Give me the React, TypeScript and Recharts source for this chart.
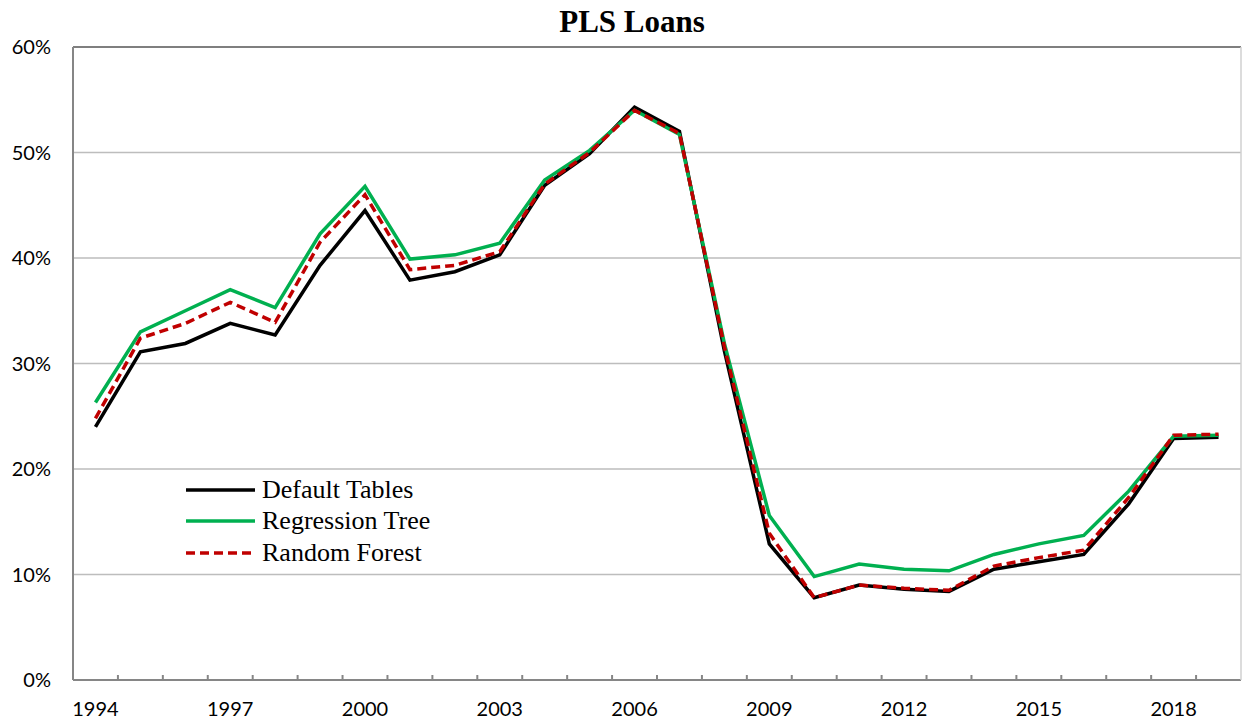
import { LineChart, Line, XAxis, YAxis, CartesianGrid, Legend } from 'recharts'

// ── Data ──────────────────────────────────────────────────────────────────────

const years = [
  1994, 1995, 1996, 1997, 1998, 1999, 2000, 2001, 2002, 2003, 2004, 2005, 2006,
  2007, 2008, 2009, 2010, 2011, 2012, 2013, 2014, 2015, 2016, 2017, 2018, 2019,
]

const defaultTables = [
  24.0, 31.1, 31.9, 33.8, 32.7, 39.3, 44.5, 37.9, 38.7, 40.3, 46.9, 49.9, 54.3,
  52.0, 31.2, 12.9, 7.8, 9.0, 8.6, 8.4, 10.5, 11.2, 11.9, 16.7, 22.9, 23.0,
]

const regressionTree = [
  26.3, 33.0, 35.0, 37.0, 35.3, 42.3, 46.8, 39.9, 40.3, 41.4, 47.4, 50.2, 54.0,
  51.7, 31.9, 15.6, 9.8, 11.0, 10.5, 10.35, 11.9, 12.9, 13.7, 17.9, 23.1, 23.2,
]

const randomForest = [
  24.8, 32.4, 33.8, 35.8, 33.9, 41.5, 46.0, 38.9, 39.3, 40.6, 47.0, 50.0, 54.0,
  51.8, 31.6, 13.9, 7.8, 9.0, 8.7, 8.5, 10.8, 11.6, 12.3, 17.3, 23.2, 23.3,
]

const seriesNames = ['Default Tables', 'Regression Tree', 'Random Forest']
const yTicks = [0, 10, 20, 30, 40, 50, 60]
const labelYears = [1994, 1997, 2000, 2003, 2006, 2009, 2012, 2015, 2018]

const chartData = years.map((year, i) => ({
  year,
  defaultTables: defaultTables[i],
  regressionTree: regressionTree[i],
  randomForest: randomForest[i],
}))

// category boundaries, where Excel puts its small tick marks
const boundaryTicks = years.slice(0, -1).map(y => y + 0.5)
const xDomain = [years[0] - 0.5, years[years.length - 1] + 0.5]

// ── Legend ────────────────────────────────────────────────────────────────────

function LegendBox({ payload }: any) {
  const items = [...(payload || [])].sort(
    (a: any, b: any) => seriesNames.indexOf(a.value) - seriesNames.indexOf(b.value),
  )
  return (
    <div style={{ fontFamily: '"Liberation Serif", "Times New Roman", serif', fontSize: 26, color: '#000' }}>
      {items.map((p: any) => (
        <div key={p.value} style={{ display: 'flex', alignItems: 'center', height: 31.5 }}>
          <svg width={76} height={10} style={{ display: 'block' }}>
            <line
              x1={0} y1={5} x2={69} y2={5}
              stroke={p.color}
              strokeWidth={3.5}
              strokeDasharray={p.payload?.strokeDasharray}
            />
          </svg>
          <span style={{ lineHeight: 1 }}>{p.value}</span>
        </div>
      ))}
    </div>
  )
}

// ── Component ─────────────────────────────────────────────────────────────────

export default function App() {
  return (
    <div style={{ position: 'absolute', left: 0, top: 0, width: 1243, height: 723, background: '#fff', fontFamily: 'Lato, sans-serif' }}>
      <div style={{
        position: 'absolute', left: 632, top: 4, transform: 'translateX(-50%)',
        fontFamily: '"Liberation Serif", "Times New Roman", serif', fontWeight: 'bold', fontSize: 31,
        whiteSpace: 'nowrap', color: '#000',
      }}>
        PLS Loans
      </div>
      <LineChart
        width={1243}
        height={723}
        data={chartData}
        margin={{ top: 46, right: 1, bottom: 42, left: 0 }}
      >
        <CartesianGrid xAxisId="main" yAxisId="left" vertical={false} stroke="#bdbdbd" strokeWidth={1.5} />
        {/* boundary tick marks, pointing into the plot */}
        <XAxis
          xAxisId="bounds"
          dataKey="year"
          type="number"
          domain={xDomain}
          ticks={boundaryTicks}
          interval={0}
          height={1}
          mirror
          tickSize={5}
          tickFormatter={() => ''}
          stroke="#868686"
          strokeWidth={2}
        />
        {/* year labels */}
        <XAxis
          xAxisId="main"
          dataKey="year"
          type="number"
          domain={xDomain}
          ticks={labelYears}
          interval={0}
          height={1}
          axisLine={false}
          tickLine={false}
          tickSize={0}
          tickMargin={22}
          tick={{ fontSize: 20, fill: '#000', fontFamily: 'Lato, sans-serif' }}
        />
        {/* frame on top */}
        <XAxis
          xAxisId="top"
          orientation="top"
          type="number"
          domain={xDomain}
          height={1}
          tick={false}
          tickLine={false}
          stroke="#7f7f7f"
          strokeWidth={2}
        />
        <YAxis
          yAxisId="left"
          domain={[0, 60]}
          ticks={yTicks}
          interval={0}
          width={73}
          tickLine={false}
          tickSize={0}
          tickMargin={22}
          tickFormatter={(v: number) => `${v}%`}
          tick={{ fontSize: 20, fill: '#000', fontFamily: 'Lato, sans-serif' }}
          stroke="#868686"
          strokeWidth={2}
        />
        <YAxis
          yAxisId="right"
          orientation="right"
          domain={[0, 60]}
          width={1}
          tick={false}
          tickLine={false}
          stroke="#d0d0d0"
          strokeWidth={1.5}
        />
        <Legend
          layout="horizontal"
          verticalAlign="middle"
          align="center"
          content={<LegendBox />}
          wrapperStyle={{ position: 'absolute', left: 186, top: 474, width: 300 }}
        />
        <Line
          xAxisId="main"
          yAxisId="left"
          type="linear"
          dataKey="defaultTables"
          name="Default Tables"
          stroke="#000000"
          strokeWidth={3.5}
          dot={false}
          isAnimationActive={false}
        />
        <Line
          xAxisId="main"
          yAxisId="left"
          type="linear"
          dataKey="regressionTree"
          name="Regression Tree"
          stroke="#00b050"
          strokeWidth={3.5}
          dot={false}
          isAnimationActive={false}
        />
        <Line
          xAxisId="main"
          yAxisId="left"
          type="linear"
          dataKey="randomForest"
          name="Random Forest"
          stroke="#c00000"
          strokeWidth={3.5}
          strokeDasharray="9 5"
          dot={false}
          isAnimationActive={false}
        />
      </LineChart>
    </div>
  )
}
